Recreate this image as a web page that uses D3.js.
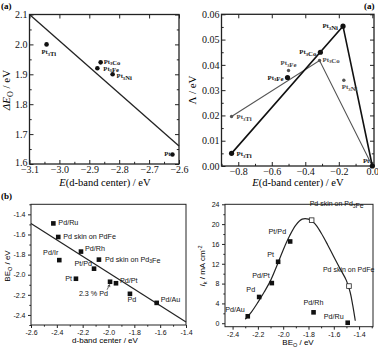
<!DOCTYPE html>
<html>
<head>
<meta charset="utf-8">
<script src="https://cdn.jsdelivr.net/npm/d3@7"></script>
<style>
  body { margin: 0; background: #fff; }
  svg { display: block; }
</style>
</head>
<body>
<svg id="fig" width="378" height="353"></svg>
<script>
// ---- (a) left: oxygen binding energy vs d-band center
const aAlloys = ['Pt3Ti', 'Pt3Co', 'Pt3Fe', 'Pt3Ni', 'Pt']
const aDband = [-3.043, -2.862, -2.873, -2.822, -2.622]
const aDeltaEO = [2.0, 1.94, 1.92, 1.90, 1.632]
const aFitX = [-3.1, -2.6]
const aFitY = [2.1, 1.66]

// ---- (a) right: activity vs d-band center, two model sets
const actAlloys = ['Pt3Ti', 'Pt3Fe', 'Pt3Co', 'Pt3Ni', 'Pt']
const actShiftBold = [-0.84, -0.506, -0.31, -0.175, 0]
const actBold = [0.005, 0.035, 0.045, 0.0553, 0]
const actShiftGrey = [-0.84, -0.50, -0.315, -0.17, 0]
const actGrey = [0.0196, 0.0378, 0.0417, 0.0339, 0]
const boldPath = ['Pt3Ti', 'Pt3Ni', 'Pt']
const greyPath = ['Pt3Ti', 'Pt3Co', 'Pt']

// ---- (b) left: BE_O vs d-band center
const bSurfaces = ['Pd/Ru', 'Pd skin on PdFe', 'Pd/Ir', 'Pd/Rh', 'Pd skin on Pd3Fe',
  'Pt/Pd', 'Pt', '2.3 % Pd', 'Pd/Pt', 'Pd', 'Pd/Au']
const bDband = [-2.427, -2.389, -2.381, -2.213, -2.074, -2.112, -2.252, -1.988, -1.942, -1.834, -1.627]
const bBEO = [-1.49, -1.625, -1.855, -1.77, -1.85, -1.94, -2.04, -2.07, -2.085, -2.19, -2.28]
const bFitX = [-2.6, -1.4]
const bFitY = [-1.49, -2.47]

// ---- (b) right: kinetic current vs BE_O (volcano)
const jSurfaces = ['Pd/Au', 'Pd', 'Pd/Pt', 'Pt', 'Pt/Pd', 'Pd/Rh', 'Pd/Ru']
const jBEO = [-2.28, -2.19, -2.09, -2.04, -1.945, -1.76, -1.49]
const jCurrent = [1.4, 5.3, 8.1, 12.4, 16.5, 2.2, 0.1]
const skinSurfaces = ['Pd skin on Pd3Fe', 'Pd skin on PdFe']
const skinBEO = [-1.775, -1.48]
const skinCurrent = [20.8, 7.5]
const volcanoBEO = [-2.30, -2.25, -2.20, -2.15, -2.10, -2.05, -2.00, -1.95, -1.90, -1.85, -1.80, -1.75, -1.70, -1.65, -1.60, -1.55, -1.50, -1.47, -1.45, -1.43]
const volcanoJ = [0.8, 2.3, 4.2, 6.3, 8.6, 11.6, 14.8, 17.6, 19.8, 21.0, 21.0, 20.1, 18.2, 15.9, 13.4, 11.0, 8.6, 6.2, 3.6, 0.5]

const svg = d3.select('#fig')
const serif = '"Liberation Serif", "Times New Roman", serif'
const sans = '"Liberation Sans", Arial, sans-serif'

// writes "Pt3Ti" / "Pd3Fe" style names with the 3 as subscript
function richLabel(sel, name, size) {
  let parts = name.split(/(3)(?=[A-Z])/)
  parts.forEach(p => {
    if (p === '3') {
      sel.append('tspan').attr('font-size', size * 0.7).attr('dy', size * 0.25).text('3')
      sel.append('tspan').attr('dy', -size * 0.25).text('')
    } else {
      sel.append('tspan').text(p)
    }
  })
}

function frame(x, y, o) {
  let g = svg.append('g').attr('font-family', o.font)
  let [x0, x1] = x.range()
  let [y0, y1] = y.range()
  let dir = o.inward ? -1 : 1

  g.append('g').attr('transform', `translate(0,${y0})`)
    .call(d3.axisBottom(x).tickValues(o.xMajor).tickFormat(o.fmtX)
      .tickSize(dir * o.tick).tickSizeOuter(0).tickPadding(o.pad))
  g.append('g').attr('transform', `translate(0,${y0})`)
    .call(d3.axisBottom(x).tickValues(o.xMinor).tickFormat('')
      .tickSize(dir * o.tick * 0.55).tickSizeOuter(0))
  g.append('g').attr('transform', `translate(${x0},0)`)
    .call(d3.axisLeft(y).tickValues(o.yMajor).tickFormat(o.fmtY)
      .tickSize(dir * o.tick).tickSizeOuter(0).tickPadding(o.pad))
  g.append('g').attr('transform', `translate(${x0},0)`)
    .call(d3.axisLeft(y).tickValues(o.yMinor).tickFormat('')
      .tickSize(dir * o.tick * 0.55).tickSizeOuter(0))

  if (o.inward) {
    g.append('g').attr('transform', `translate(0,${y1})`)
      .call(d3.axisTop(x).tickValues(o.xMajor).tickFormat('').tickSize(-o.tick).tickSizeOuter(0))
    g.append('g').attr('transform', `translate(${x1},0)`)
      .call(d3.axisRight(y).tickValues(o.yMajor).tickFormat('').tickSize(-o.tick).tickSizeOuter(0))
    g.append('g').attr('transform', `translate(${x1},0)`)
      .call(d3.axisRight(y).tickValues(o.yMinor).tickFormat('').tickSize(-o.tick * 0.55).tickSizeOuter(0))
  }

  g.selectAll('.domain').remove()
  g.selectAll('line').attr('stroke', '#222').attr('stroke-width', 1)
  g.selectAll('text').attr('font-size', o.fontSize).attr('fill', '#111').attr('font-family', o.font)
  g.append('rect')
    .attr('x', x0).attr('y', y1).attr('width', x1 - x0).attr('height', y0 - y1)
    .attr('fill', 'none').attr('stroke', '#222').attr('stroke-width', o.frameWidth)
  return g
}

let line = d3.line()
let steps = (a, b, s) => d3.range(Math.round((b - a) / s) + 1).map(i => +(a + i * s).toFixed(3))

// ================= panel (a) left
{
  let x = d3.scaleLinear().domain([-3.1, -2.6]).range([29.5, 179])
  let y = d3.scaleLinear().domain([1.6, 2.1]).range([164, 14.5])
  let g = frame(x, y, {
    font: serif, fontSize: 10, inward: true, tick: 4, pad: 2, frameWidth: 1.3,
    xMajor: steps(-3.1, -2.6, 0.1), xMinor: steps(-3.05, -2.65, 0.1),
    yMajor: steps(1.6, 2.1, 0.1), yMinor: steps(1.65, 2.05, 0.1),
    fmtX: d3.format('.1f'), fmtY: d3.format('.1f')
  })
  // the lowest y label sits a touch higher so it clears the first x label
  g.selectAll('text').filter(d => d === 1.6).attr('dy', '0.1em')

  svg.append('path')
    .attr('d', line(aFitX.map((v, i) => [x(v), y(aFitY[i])])))
    .attr('stroke', '#222').attr('stroke-width', 1.3).attr('fill', 'none')

  let offs = { Pt3Ti: [-5, 10, 'start'], Pt3Co: [3, 1.5, 'start'], Pt3Fe: [6, 2.5, 'start'], Pt3Ni: [4, 4, 'start'], Pt: [-2, 2, 'end'] }
  aAlloys.forEach((name, i) => {
    svg.append('circle').attr('cx', x(aDband[i])).attr('cy', y(aDeltaEO[i]))
      .attr('r', 2.3).attr('fill', '#111')
    let t = svg.append('text')
      .attr('x', x(aDband[i]) + offs[name][0]).attr('y', y(aDeltaEO[i]) + offs[name][1])
      .attr('text-anchor', offs[name][2])
      .attr('font-family', serif).attr('font-size', 6.6).attr('font-weight', 'bold').attr('fill', '#111')
    richLabel(t, name, 6.6)
  })

  svg.append('text').attr('transform', 'translate(10,90) rotate(-90)')
    .attr('text-anchor', 'middle').attr('font-family', serif).attr('font-size', 11)
    .call(t => {
      t.append('tspan').attr('font-style', 'italic').text('ΔE')
      t.append('tspan').attr('font-size', 8).attr('dy', 2.5).text('O')
      t.append('tspan').attr('dy', -2.5).text(' / eV')
    })
  svg.append('text').attr('x', 105).attr('y', 186)
    .attr('text-anchor', 'middle').attr('font-family', serif).attr('font-size', 10.5)
    .call(t => {
      t.append('tspan').attr('font-style', 'italic').text('E')
      t.append('tspan').text('(d-band center) / eV')
    })
  svg.append('text').attr('x', 1).attr('y', 9)
    .attr('font-family', serif).attr('font-size', 9).attr('font-weight', 'bold').text('(a)')
}

// ================= panel (a) right
{
  let x = d3.scaleLinear().domain([-0.9, 0.01]).range([221.5, 374])
  let y = d3.scaleLinear().domain([0, 0.06]).range([166, 14.3])
  frame(x, y, {
    font: serif, fontSize: 10, inward: true, tick: 4, pad: 2, frameWidth: 1.3,
    xMajor: steps(-0.8, 0, 0.2), xMinor: steps(-0.9, -0.1, 0.2),
    yMajor: steps(0, 0.06, 0.01), yMinor: steps(0.005, 0.055, 0.01),
    fmtX: d3.format('.1f'), fmtY: d3.format('.2f')
  })

  let pick = (names, xs, ys) => names.map(n => {
    let i = actAlloys.indexOf(n)
    return [x(xs[i]), y(ys[i])]
  })
  svg.append('path').attr('d', line(pick(greyPath, actShiftGrey, actGrey)))
    .attr('stroke', '#555').attr('stroke-width', 1.1).attr('fill', 'none')
  svg.append('path').attr('d', line(pick(boldPath, actShiftBold, actBold)))
    .attr('stroke', '#111').attr('stroke-width', 1.6).attr('fill', 'none')

  let greyOffs = { Pt3Ti: [5, 3, 'start'], Pt3Fe: [0, -5, 'middle'], Pt3Co: [3, 1, 'start'], Pt3Ni: [-2, 9, 'start'], Pt: null }
  let boldOffs = { Pt3Ti: [5, 3, 'start'], Pt3Fe: [-4, 2, 'end'], Pt3Co: [-4, 2, 'end'], Pt3Ni: [-5, 2, 'end'], Pt: [-3, -3, 'end'] }
  actAlloys.forEach((name, i) => {
    if (greyOffs[name]) {
      let px = x(actShiftGrey[i]), py = y(actGrey[i])
      svg.append('circle').attr('cx', px).attr('cy', py).attr('r', 1.7).attr('fill', '#555')
      let t = svg.append('text').attr('x', px + greyOffs[name][0]).attr('y', py + greyOffs[name][1])
        .attr('text-anchor', greyOffs[name][2]).attr('font-family', serif).attr('font-size', 6.8)
        .attr('font-weight', 'bold').attr('fill', '#444')
      richLabel(t, name, 6.8)
    }
    let px = x(actShiftBold[i]), py = y(actBold[i])
    svg.append('circle').attr('cx', px).attr('cy', py).attr('r', 2.6).attr('fill', '#111')
    let t = svg.append('text').attr('x', px + boldOffs[name][0]).attr('y', py + boldOffs[name][1])
      .attr('text-anchor', boldOffs[name][2]).attr('font-family', serif).attr('font-size', 6.8)
      .attr('font-weight', 'bold').attr('fill', '#111')
    richLabel(t, name, 6.8)
  })

  svg.append('text').attr('transform', 'translate(196,90) rotate(-90)')
    .attr('text-anchor', 'middle').attr('font-family', serif).attr('font-size', 11)
    .text('Λ / eV')
  svg.append('text').attr('x', 298).attr('y', 186)
    .attr('text-anchor', 'middle').attr('font-family', serif).attr('font-size', 10.5)
    .call(t => {
      t.append('tspan').attr('font-style', 'italic').text('E')
      t.append('tspan').text('(d-band center) / eV')
    })
  svg.append('text').attr('x', 364).attr('y', 9)
    .attr('font-family', serif).attr('font-size', 9).attr('font-weight', 'bold').text('(a)')
}

// ================= panel (b) left
{
  let x = d3.scaleLinear().domain([-2.6, -1.4]).range([31, 186])
  let y = d3.scaleLinear().domain([-2.5, -1.3]).range([325, 204.3])
  frame(x, y, {
    font: sans, fontSize: 7, inward: false, tick: 3, pad: 2.5, frameWidth: 1,
    xMajor: steps(-2.6, -1.4, 0.2), xMinor: steps(-2.5, -1.5, 0.2),
    yMajor: steps(-2.4, -1.4, 0.2), yMinor: steps(-2.5, -1.3, 0.2),
    fmtX: d => d.toFixed(1), fmtY: d => d.toFixed(1)
  })

  svg.append('path')
    .attr('d', line(bFitX.map((v, i) => [x(v), y(bFitY[i])])))
    .attr('stroke', '#222').attr('stroke-width', 1.2).attr('fill', 'none')

  let offs = {
    'Pd/Ru': [5, 2, 'start'], 'Pd skin on PdFe': [5, 2, 'start'], 'Pd/Ir': [-1, -5, 'end'],
    'Pd/Rh': [4, -1, 'start'], 'Pd skin on Pd3Fe': [6, 2, 'start'], 'Pt/Pd': [-2, -3, 'end'],
    'Pt': [-4, 2, 'end'], '2.3 % Pd': [-2, 14, 'end'], 'Pd/Pt': [4, 0, 'start'],
    'Pd': [2, 8, 'middle'], 'Pd/Au': [4, -1, 'start']
  }
  bSurfaces.forEach((name, i) => {
    let px = x(bDband[i]), py = y(bBEO[i])
    svg.append('rect').attr('x', px - 2.3).attr('y', py - 2.3).attr('width', 4.6).attr('height', 4.6)
      .attr('fill', '#111')
    let t = svg.append('text').attr('x', px + offs[name][0]).attr('y', py + offs[name][1])
      .attr('text-anchor', offs[name][2]).attr('font-family', sans).attr('font-size', 7.2).attr('fill', '#111')
    richLabel(t, name, 7.2)
    if (name === '2.3 % Pd') {
      svg.append('path').attr('d', line([[px - 3, py + 8], [px - 0.5, py + 3]]))
        .attr('stroke', '#222').attr('stroke-width', 0.7)
      svg.append('path').attr('d', line([[px - 2.5, py + 4.5], [px - 0.5, py + 3], [px - 0.2, py + 5.4]]))
        .attr('stroke', '#222').attr('stroke-width', 0.7).attr('fill', 'none')
    }
  })

  svg.append('text').attr('transform', 'translate(10,266) rotate(-90)')
    .attr('text-anchor', 'middle').attr('font-family', sans).attr('font-size', 8)
    .call(t => {
      t.append('tspan').text('BE')
      t.append('tspan').attr('font-size', 5.5).attr('dy', 2).text('O')
      t.append('tspan').attr('dy', -2).text(' / eV')
    })
  svg.append('text').attr('x', 105).attr('y', 343)
    .attr('text-anchor', 'middle').attr('font-family', sans).attr('font-size', 8)
    .text('d-band center / eV')
  svg.append('text').attr('x', 1).attr('y', 199)
    .attr('font-family', serif).attr('font-size', 9).attr('font-weight', 'bold').text('(b)')
}

// ================= panel (b) right
{
  let x = d3.scaleLinear().domain([-2.46, -1.29]).range([225, 373])
  let y = d3.scaleLinear().domain([-0.7, 24]).range([326.7, 204.3])
  frame(x, y, {
    font: sans, fontSize: 7, inward: false, tick: 3, pad: 2.5, frameWidth: 1,
    xMajor: steps(-2.4, -1.4, 0.2), xMinor: steps(-2.3, -1.3, 0.2),
    yMajor: steps(0, 24, 4), yMinor: steps(2, 22, 4),
    fmtX: d => d.toFixed(1), fmtY: d3.format('d')
  })

  svg.append('path')
    .attr('d', d3.line().curve(d3.curveCatmullRom)(volcanoBEO.map((v, i) => [x(v), y(volcanoJ[i])])))
    .attr('stroke', '#222').attr('stroke-width', 1.2).attr('fill', 'none')

  let offs = {
    'Pd/Au': [-3, -4, 'end'], 'Pd': [-4, -5, 'end'], 'Pd/Pt': [-2, -5, 'end'], 'Pt': [-4, -5, 'end'],
    'Pt/Pd': [-4, -7, 'end'], 'Pd/Rh': [0, -7, 'middle'], 'Pd/Ru': [-4, -4, 'end']
  }
  jSurfaces.forEach((name, i) => {
    let px = x(jBEO[i]), py = y(jCurrent[i])
    svg.append('rect').attr('x', px - 2.3).attr('y', py - 2.3).attr('width', 4.6).attr('height', 4.6)
      .attr('fill', '#111')
    svg.append('text').attr('x', px + offs[name][0]).attr('y', py + offs[name][1])
      .attr('text-anchor', offs[name][2]).attr('font-family', sans).attr('font-size', 7.2).attr('fill', '#111')
      .text(name)
  })
  let skinOffs = { 'Pd skin on Pd3Fe': [-2, -14, 'start'], 'Pd skin on PdFe': [-26, -14, 'start'] }
  skinSurfaces.forEach((name, i) => {
    let px = x(skinBEO[i]), py = y(skinCurrent[i])
    svg.append('rect').attr('x', px - 2.3).attr('y', py - 2.3).attr('width', 4.6).attr('height', 4.6)
      .attr('fill', '#fff').attr('stroke', '#222').attr('stroke-width', 0.8)
    let t = svg.append('text').attr('x', px + skinOffs[name][0]).attr('y', py + skinOffs[name][1])
      .attr('text-anchor', skinOffs[name][2]).attr('font-family', sans).attr('font-size', 7)
      .attr('fill', '#111')
    richLabel(t, name, 7)
  })

  svg.append('text').attr('transform', 'translate(205,266) rotate(-90)')
    .attr('text-anchor', 'middle').attr('font-family', sans).attr('font-size', 8)
    .call(t => {
      t.append('tspan').attr('font-style', 'italic').text('I')
      t.append('tspan').attr('font-size', 5.5).attr('dy', 2).text('k')
      t.append('tspan').attr('dy', -2).text(' / mA cm')
      t.append('tspan').attr('font-size', 5.5).attr('dy', -3).text('-2')
    })
  svg.append('text').attr('x', 298).attr('y', 345)
    .attr('text-anchor', 'middle').attr('font-family', sans).attr('font-size', 8)
    .call(t => {
      t.append('tspan').text('BE')
      t.append('tspan').attr('font-size', 5.5).attr('dy', 2).text('O')
      t.append('tspan').attr('dy', -2).text(' / eV')
    })
}
</script>
</body>
</html>
